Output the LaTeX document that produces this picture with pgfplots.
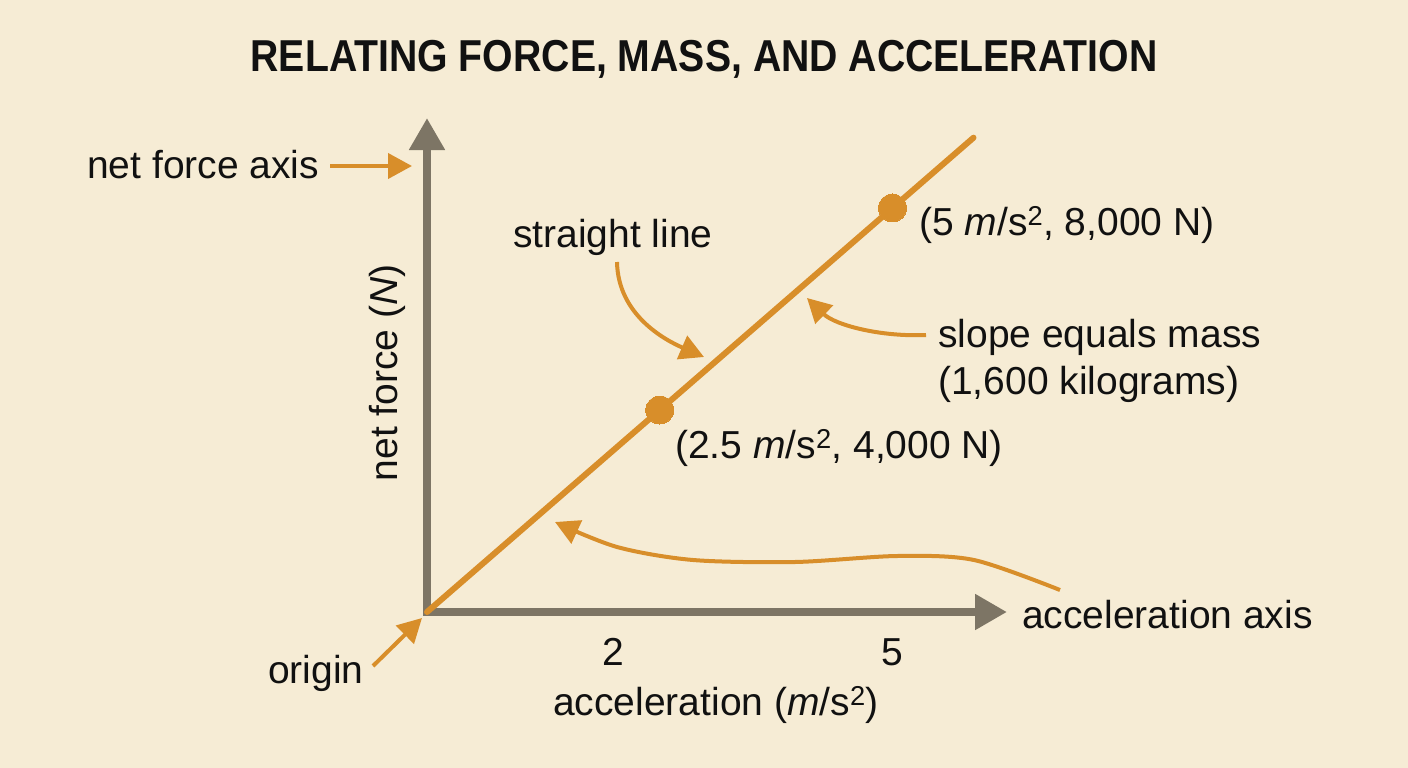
\documentclass[border=0pt]{standalone}
\usepackage{fontspec}
\setmainfont{Liberation Sans}
\usepackage{graphicx}
\usepackage{pgfplots}
\pgfplotsset{compat=1.18}
\usetikzlibrary{arrows.meta}
\definecolor{bg}{RGB}{246,236,213}
\definecolor{lineor}{RGB}{216,142,42}
\definecolor{axgray}{RGB}{125,117,101}
\definecolor{txt}{RGB}{17,17,17}
\newcommand{\bodyfont}{\fontsize{39}{46}\selectfont}
\begin{document}
\begin{tikzpicture}
\fill[bg] (0pt,0pt) rectangle (1408pt,-768pt);
\begin{axis}[
  at={(427pt,-612pt)}, anchor=south west,
  scale only axis, width=580pt, height=494pt,
  xmin=0, xmax=6.23, ymin=0, ymax=9782,
  axis lines=left,
  axis line style={draw=axgray, line width=8pt, line cap=rect},
  x axis line style={-{Triangle[length=32pt,width=34pt]}},
  y axis line style={-{Triangle[length=32pt,width=34pt]}},
  xtick={2,5}, xticklabels={2,5}, ytick=\empty,
  major tick length=0pt,
  xticklabel style={font=\bodyfont, text=txt, inner sep=0pt, anchor=north, yshift=-26pt},
  xlabel={acceleration (\textit{m}/s\textsuperscript{2})},
  xlabel style={font=\bodyfont, text=txt, at={(axis description cs:0.4983,0)}, anchor=base, yshift=-103pt, inner sep=0pt},
  ylabel={net force (\textit{N})},
  ylabel style={font=\bodyfont, text=txt, at={(axis description cs:-0.0517,0.484)}, anchor=base, inner sep=0pt},
  title={\scalebox{0.877}[1]{RELATING FORCE, MASS, AND ACCELERATION}},
  title style={font=\fontsize{44.7}{50}\selectfont\bfseries, text=txt, at={(axis description cs:0.4776,1.081)}, anchor=base, inner sep=0pt},
  clip=false,
]
\addplot[draw=lineor, line width=6pt, line cap=round] coordinates {(0,0) (2.5,4000) (5,8000) (5.87,9392)};
\addplot[only marks, color=lineor, mark=*, mark size=14pt, mark options={fill=lineor, draw=lineor, line width=0pt}] coordinates {(2.5,4000) (5,8000)};
\end{axis}
\begin{scope}[x=1pt, y=-1pt, every node/.style={font=\bodyfont, text=txt, inner sep=0pt},
  ann/.style={draw=lineor, line width=4pt, -{Triangle[length=24pt,width=25pt]}}]
\node[anchor=base west] at (87,178) {net force axis};
\node[anchor=base west] at (513,247) {straight line};
\node[anchor=base west] at (919,235) {(5 \textit{m}/s\textsuperscript{2}, 8,000 N)};
\node[anchor=base west] at (938,347) {slope equals mass};
\node[anchor=base west] at (938,394) {(1,600 kilograms)};
\node[anchor=base west] at (675,458) {(2.5 \textit{m}/s\textsuperscript{2}, 4,000 N)};
\node[anchor=base west] at (1022,628) {acceleration axis};
\node[anchor=base west] at (268,683) {origin};
\draw[ann] (330,166) -- (412,166);
\draw[ann] (617,262) .. controls (618,315) and (665,340) .. (704,357);
\draw[ann] (926,335) .. controls (880,337) and (835,325) .. (807,298);
\draw[ann] plot[smooth] coordinates {(1060,590) (974,560) (897,556) (795,562) (693,560) (617,547) (555,522)};
\draw[ann] (373,666) -- (422,618);
\end{scope}
\end{tikzpicture}
\end{document}
